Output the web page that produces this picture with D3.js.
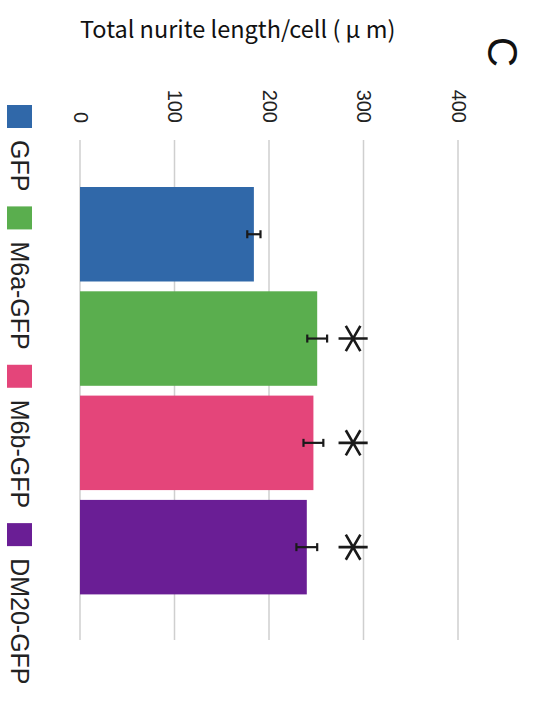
<!DOCTYPE html>
<html>
<head>
<meta charset="utf-8">
<script src="https://cdn.jsdelivr.net/npm/d3@7"></script>
<style>
  body { margin: 0; background: #fff; }
  svg { display: block; }
  svg text { font-family: "Liberation Sans", Arimo, Arial, Helvetica, sans-serif; }
  svg text.title { font-family: "Noto Sans CJK JP", sans-serif; }
</style>
</head>
<body>
<div id="chart"></div>
<script>
// data
const groups = ["GFP", "M6a-GFP", "M6b-GFP", "DM20-GFP"];
const means = [184, 251, 247, 240];
const errors = [7, 10.5, 10.5, 11];
const significant = [false, true, true, true];
const tickValues = [0, 100, 200, 300, 400];
const colors = ["#3068a9", "#5aae4e", "#e4457a", "#6a1e95"];
const starLevel = 289;

const width = 534, height = 708;

const svg = d3.select("#chart").append("svg")
    .attr("width", width)
    .attr("height", height);

// value axis runs left to right (the chart is turned on its side)
const x = d3.scaleLinear().domain([0, 400]).range([80, 458]);
const y = d3.scaleBand().domain(groups).range([187, 594.4])
    .paddingInner(0.094).paddingOuter(0);

// gridlines
svg.append("g").selectAll("line")
    .data(tickValues)
    .join("line")
    .attr("x1", d => x(d)).attr("x2", d => x(d))
    .attr("y1", 140).attr("y2", 640)
    .attr("stroke", "#cfcfcf")
    .attr("stroke-width", 1.5);

// tick labels, rotated
const axis = svg.append("g")
    .attr("transform", "translate(0,123)")
    .call(d3.axisTop(x).tickValues(tickValues).tickSize(0).tickPadding(0));
axis.attr("font-family", null).attr("font-size", null);
axis.select(".domain").remove();
axis.selectAll("text")
    .attr("transform", "rotate(90)")
    .attr("x", 0).attr("y", 0)
    .attr("dy", "0.35em")
    .attr("text-anchor", "end")
    .attr("font-size", 20)
    .attr("fill", "#222");

// bars
svg.append("g").selectAll("rect")
    .data(groups)
    .join("rect")
    .attr("x", x(0))
    .attr("y", d => y(d))
    .attr("width", (d, i) => x(means[i]) - x(0))
    .attr("height", y.bandwidth())
    .attr("fill", (d, i) => colors[i]);

// error bars
const eb = svg.append("g").attr("stroke", "#1a1a1a").attr("stroke-width", 2.2);
groups.forEach((g, i) => {
    const cy = y(g) + y.bandwidth() / 2;
    const lo = x(means[i] - errors[i]), hi = x(means[i] + errors[i]);
    eb.append("line").attr("x1", lo).attr("x2", hi).attr("y1", cy).attr("y2", cy);
    eb.append("line").attr("x1", lo).attr("x2", lo).attr("y1", cy - 4).attr("y2", cy + 4);
    eb.append("line").attr("x1", hi).attr("x2", hi).attr("y1", cy - 4).attr("y2", cy + 4);
});

// significance asterisks
const star = d3.symbol().type(d3.symbolAsterisk).size(600);
svg.append("g").selectAll("path")
    .data(groups.filter((g, i) => significant[i]))
    .join("path")
    .attr("d", star)
    .attr("transform", d => `translate(${x(starLevel)},${y(d) + y.bandwidth() / 2}) rotate(90)`)
    .attr("fill", "none")
    .attr("stroke", "#1a1a1a")
    .attr("stroke-width", 2.6);

// title
svg.append("text")
    .attr("class", "title")
    .attr("x", 80).attr("y", 38)
    .attr("font-size", 23.5)
    .attr("fill", "#111")
    .text("Total nurite length/cell ( μ m)");

// panel letter
svg.append("text")
    .attr("transform", "translate(503,52) rotate(90)")
    .attr("text-anchor", "middle")
    .attr("dy", "0.36em")
    .attr("font-size", 42)
    .attr("font-weight", 300)
    .attr("fill", "#111")
    .text("C");

// legend, rotated to read downward
const legend = svg.append("g").attr("transform", "translate(32,105) rotate(90)");
let offset = 0;
groups.forEach((g, i) => {
    legend.append("rect")
        .attr("x", offset).attr("y", 0)
        .attr("width", 23).attr("height", 25)
        .attr("fill", colors[i]);
    const t = legend.append("text")
        .attr("x", offset + 35).attr("y", 12.5)
        .attr("dy", "0.35em")
        .attr("font-size", 25)
        .attr("fill", "#222")
        .text(g);
    offset += 35 + t.node().getComputedTextLength() + 15;
});
</script>
</body>
</html>
